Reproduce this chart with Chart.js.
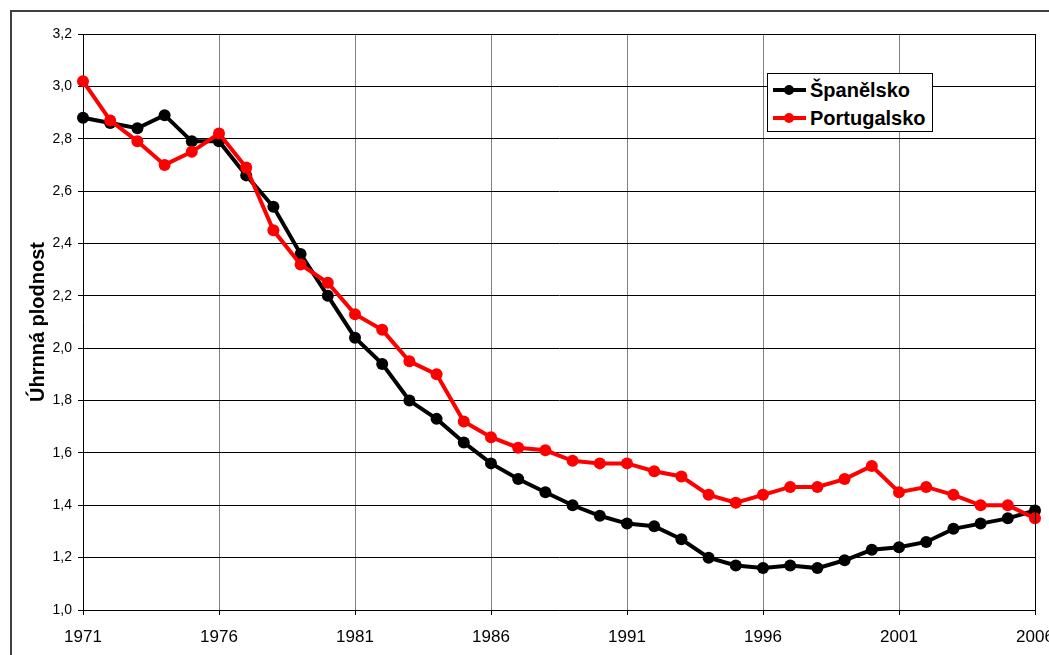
<!DOCTYPE html>
<html>
<head>
<meta charset="utf-8">
<script src="https://cdn.jsdelivr.net/npm/chart.js@4/dist/chart.umd.min.js"></script>
<style>
  html, body { margin: 0; padding: 0; background: #fff; overflow: hidden; }
  #wrap { position: relative; width: 1049px; height: 655px; overflow: hidden; }
  #frame { position: absolute; left: 10px; top: 10px; width: 1200px; height: 800px;
           border: 2px solid #404040; box-sizing: border-box; }
  #chart { position: absolute; left: 0; top: 0; }
  #legend { position: absolute; left: 767px; top: 73px; width: 164px; height: 57px;
            background: #fff; border: 1px solid #000; font: bold 20px "Liberation Sans", Arial, sans-serif; }
  .row { position: absolute; left: 0; height: 24px; line-height: 24px; }
  .row .ln { position: absolute; left: 5px; top: 10px; width: 33px; height: 4px; }
  .row .dot { position: absolute; left: 16px; top: 7px; width: 10px; height: 10px; border-radius: 50%; }
  .row .txt { position: absolute; left: 42px; top: 0; white-space: nowrap; color: #000; }
</style>
</head>
<body>
<div id="wrap">
  <div id="frame"></div>
  <canvas id="chart" width="1080" height="680"></canvas>
  <div id="legend">
    <div class="row" style="top:4px"><div class="ln" style="background:#000"></div><div class="dot" style="background:#000"></div><div class="txt">Španělsko</div></div>
    <div class="row" style="top:32px"><div class="ln" style="background:#f00"></div><div class="dot" style="background:#f00"></div><div class="txt">Portugalsko</div></div>
  </div>
</div>
<script>
const years = [];
for (let y = 1971; y <= 2006; y++) years.push(y);

const xTickYears = [1971, 1976, 1981, 1986, 1991, 1996, 2001, 2006];

const spain = [2.88, 2.86, 2.84, 2.89, 2.79, 2.79, 2.66, 2.54, 2.36, 2.20,
               2.04, 1.94, 1.80, 1.73, 1.64, 1.56, 1.50, 1.45, 1.40, 1.36,
               1.33, 1.32, 1.27, 1.20, 1.17, 1.16, 1.17, 1.16, 1.19, 1.23,
               1.24, 1.26, 1.31, 1.33, 1.35, 1.38];

const portugal = [3.02, 2.87, 2.79, 2.70, 2.75, 2.82, 2.69, 2.45, 2.32, 2.25,
                  2.13, 2.07, 1.95, 1.90, 1.72, 1.66, 1.62, 1.61, 1.57, 1.56,
                  1.56, 1.53, 1.51, 1.44, 1.41, 1.44, 1.47, 1.47, 1.50, 1.55,
                  1.45, 1.47, 1.44, 1.40, 1.40, 1.35];

const toPoints = vals => vals.map((v, i) => ({ x: years[i], y: v }));

new Chart(document.getElementById('chart'), {
  type: 'line',
  data: {
    datasets: [
      {
        label: 'Portugalsko',
        data: toPoints(portugal),
        borderColor: '#ff0000',
        backgroundColor: '#ff0000',
        borderWidth: 4,
        pointRadius: 6,
        pointBorderWidth: 0,
        tension: 0,
        clip: false
      },
      {
        label: 'Španělsko',
        data: toPoints(spain),
        borderColor: '#000000',
        backgroundColor: '#000000',
        borderWidth: 4,
        pointRadius: 6,
        pointBorderWidth: 0,
        tension: 0,
        clip: false
      }
    ]
  },
  options: {
    responsive: false,
    animation: false,
    layout: { padding: { left: 0, top: 34, right: 45, bottom: 0 } },
    plugins: {
      legend: { display: false },
      tooltip: { enabled: false }
    },
    scales: {
      x: {
        type: 'linear',
        min: 1971,
        max: 2006,
        afterBuildTicks: scale => { scale.ticks = xTickYears.map(v => ({ value: v })); },
        afterFit: scale => { scale.height = 70; },
        grid: { color: '#808080', tickColor: '#000', tickLength: 5, lineWidth: 1 },
        border: { color: '#000', width: 1 },
        ticks: {
          color: '#000',
          font: { family: '"Liberation Sans", Arial', size: 17 },
          padding: 12,
          maxRotation: 0,
          autoSkip: false,
          callback: v => String(v)
        }
      },
      y: {
        min: 1.0,
        max: 3.2,
        afterFit: scale => { scale.width = 83; },
        grid: { color: '#000', tickColor: '#000', tickLength: 5, lineWidth: 1 },
        border: { color: '#000', width: 1 },
        ticks: {
          stepSize: 0.2,
          color: '#000',
          font: { family: '"Liberation Sans", Arial', size: 14 },
          padding: 6,
          callback: v => v.toFixed(1).replace('.', ',')
        },
        title: {
          display: true,
          text: 'Úhrnná plodnost',
          color: '#000',
          font: { family: '"Liberation Sans", Arial', size: 20, weight: 'bold' },
          padding: { top: 26, bottom: 0 }
        }
      }
    }
  },
  plugins: [{
    id: 'rightBorder',
    afterDraw(chart) {
      const { ctx, chartArea } = chart;
      ctx.save();
      ctx.strokeStyle = '#000';
      ctx.lineWidth = 1;
      ctx.beginPath();
      ctx.moveTo(chartArea.right + 0.5, chartArea.top);
      ctx.lineTo(chartArea.right + 0.5, chartArea.bottom);
      ctx.stroke();
      ctx.restore();
    }
  }]
});
</script>
</body>
</html>
